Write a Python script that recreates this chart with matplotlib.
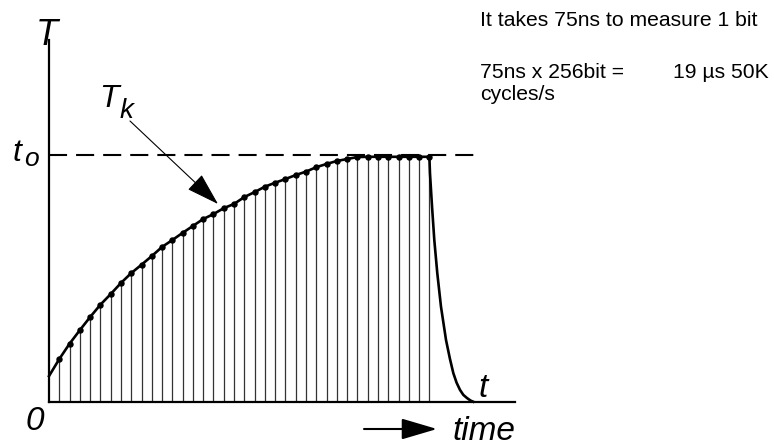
import matplotlib
matplotlib.use('Agg')
import matplotlib.pyplot as plt

plt.rcParams['font.family'] = ['Liberation Sans', 'DejaVu Sans']
plt.rcParams['lines.scale_dashes'] = False

# sampled charging curve T_k (relative to t_o = 1)
start_x = [0]
start_y = [0.105]
stem_x = list(range(1, 38))
stem_y = [0.174, 0.236, 0.291, 0.344, 0.394, 0.437, 0.482, 0.522, 0.556, 0.591,
          0.628, 0.656, 0.685, 0.713, 0.741, 0.761, 0.785, 0.802, 0.830, 0.850,
          0.872, 0.888, 0.903, 0.919, 0.933, 0.951, 0.964, 0.976, 0.984, 0.992,
          0.993, 0.993, 0.993, 0.993, 0.993, 0.993, 0.993]
# discharge after the last sample
decay_x = [37.03, 37.06, 37.26, 37.48, 37.77, 38.13, 38.62, 39.0, 39.33, 39.65,
           39.98, 40.3, 40.66, 41.0, 41.27]
decay_y = [0.96, 0.926, 0.791, 0.656, 0.522, 0.386, 0.251, 0.175, 0.117, 0.078,
           0.049, 0.029, 0.016, 0.006, 0.001]
t_o = 1.0
dash_end = 41.7

W, H = 774, 448
fig = plt.figure(figsize=(W / 100, H / 100), dpi=100)
ax = fig.add_axes([49 / W, 46 / H, 466 / W, 362 / H])
ax.set_xlim(0, 45.33)
ax.set_ylim(0, 1.466)
for s in ['top', 'right']:
    ax.spines[s].set_visible(False)
for s in ['left', 'bottom']:
    ax.spines[s].set_linewidth(1.6)
ax.set_xticks([])
ax.set_yticks([])
ax.patch.set_visible(False)

ax.vlines(stem_x, 0, stem_y, color='#333333', lw=0.9)
ax.plot([0, dash_end], [t_o, t_o], color='black', lw=1.5,
        linestyle=(0, (13, 6.5)), clip_on=False)
ax.plot(start_x + stem_x + decay_x, start_y + stem_y + decay_y,
        color='black', lw=1.9, solid_joinstyle='round', clip_on=False)
ax.plot(stem_x, stem_y, 'o', color='black', ms=3.6, clip_on=False)


def px(x, y):
    return x / W, 1 - y / H


def label(x, y, s, size):
    fig.text(*px(x, y), s, fontsize=size, style='italic', va='baseline')


label(36, 45, 'T', 26)
label(99, 107, 'T', 23)
label(120, 118, 'k', 20)
label(13, 161, 't', 23)
label(24, 166, 'o', 19)
label(26, 430, '0', 24)
label(478, 397, 't', 24)
label(452, 440, 'time', 24)

ax.annotate('', xy=(218, H - 204), xytext=(130, H - 121),
            xycoords='figure pixels', textcoords='figure pixels',
            arrowprops=dict(arrowstyle='-|>,head_length=2.1,head_width=0.65',
                            color='black', lw=0.8, mutation_scale=10,
                            shrinkA=0, shrinkB=0))
ax.annotate('', xy=(437, H - 429), xytext=(364, H - 429),
            xycoords='figure pixels', textcoords='figure pixels',
            arrowprops=dict(arrowstyle='-|>,head_length=2.2,head_width=0.65',
                            color='black', lw=1.5, mutation_scale=10,
                            shrinkA=0, shrinkB=0))

fs = 15.2
fig.text(*px(480, 26), 'It takes 75ns to measure 1 bit', fontsize=fs, va='baseline')
fig.text(*px(480, 78), '75ns x 256bit =', fontsize=fs, va='baseline')
fig.text(*px(673, 78), '19 \u00b5s 50K', fontsize=fs, va='baseline')
fig.text(*px(480, 100), 'cycles/s', fontsize=fs, va='baseline')

fig.savefig('out.png', dpi=100)
